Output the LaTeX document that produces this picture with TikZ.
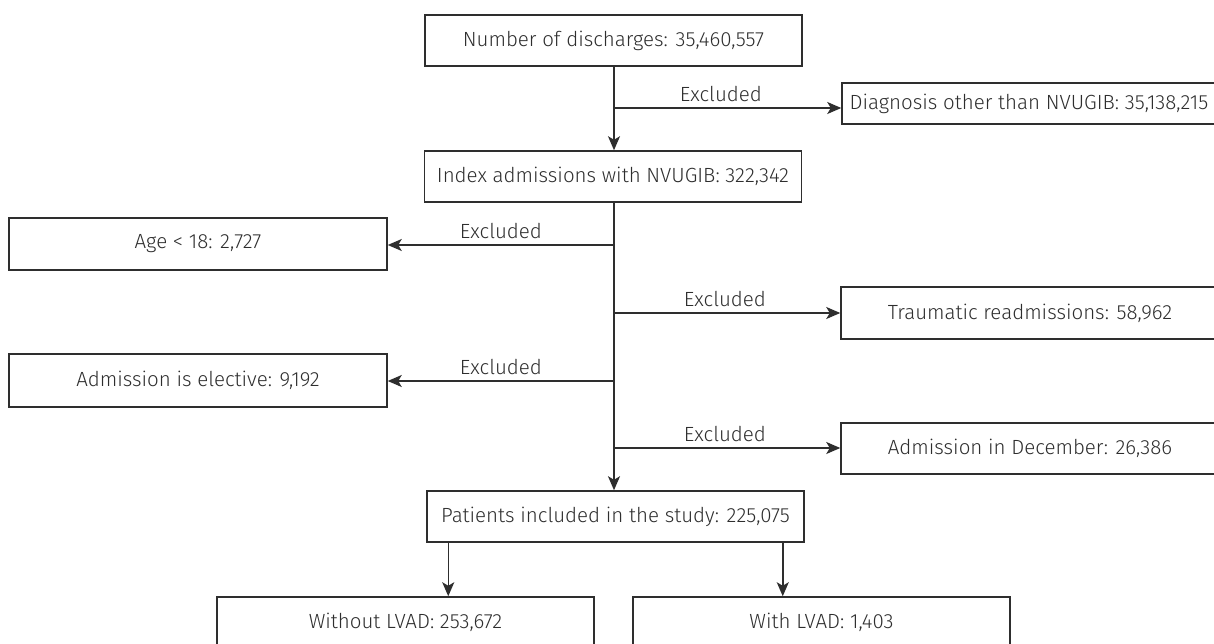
\documentclass[tikz,border=0pt]{standalone}
\usepackage{fontspec}
\setmainfont{Fira Sans}[UprightFont=* Light]
\usetikzlibrary{arrows.meta,calc}
\definecolor{ink}{HTML}{2E2E2E}
\tikzset{
  box/.style={draw=ink, line width=1.5pt, rectangle, minimum width=377pt, minimum height=51pt, inner sep=0pt, text=ink, font=\fontsize{20.5}{24}\selectfont},
  arr/.style={draw=ink, line width=1.5pt, -{Stealth[length=14pt,width=12pt,inset=3.5pt]}},
  lbl/.style={text=ink, font=\fontsize{20.5}{24}\selectfont, inner sep=0pt}
}
\begin{document}
\begin{tikzpicture}[x=1pt,y=-1pt]
\useasboundingbox (0,0) rectangle (1214,644);
\clip (0,0) rectangle (1214,644);
\node[box] (n1) at (613.5,40.5) {Number of discharges: 35,460,557};
\node[box, minimum width=374pt, minimum height=41pt] (diag) at (1029,103.5) {Diagnosis other than NVUGIB: 35,138,215};
\node[box] (idx) at (613,176.5) {Index admissions with NVUGIB: 322,342};
\node[box, minimum width=378pt, minimum height=52pt] (age) at (198,244) {Age < 18: 2,727};
\node[box, minimum width=378pt, minimum height=52pt] (trau) at (1030,313) {Traumatic readmissions: 58,962};
\node[box, minimum width=378pt, minimum height=53pt] (elec) at (198,380.5) {Admission is elective: 9,192};
\node[box, minimum width=378pt] (dec) at (1030,448.5) {Admission in December: 26,386};
\node[box] (pat) at (615.5,516.5) {Patients included in the study: 225,075};
\node[box] (wo) at (405.5,622.5) {Without LVAD: 253,672};
\node[box] (wi) at (821.5,622.5) {With LVAD: 1,403};
% main spine
\coordinate (s1) at (614,66);
\coordinate (b0) at (614,108);
\coordinate (b1) at (614,245);
\coordinate (b2) at (614,313);
\coordinate (b3) at (614,381);
\coordinate (b4) at (614,448);
\draw[arr] (s1) -- (s1 |- idx.north);
\draw[arr] (s1 |- idx.south) -- (s1 |- pat.north);
% exclusions
\draw[arr] (b0) -- node[lbl, above=6pt, pos=0.47] (l0) {Excluded} (b0 -| diag.west);
\draw[arr] (b1) -- node[lbl, above=6pt] (l1) {Excluded} (b1 -| age.east);
\draw[arr] (b2) -- node[lbl, above=6pt, pos=0.49] (l2) {Excluded} (b2 -| trau.west);
\draw[arr] (b3) -- node[lbl, above=6pt] (l3) {Excluded} (b3 -| elec.east);
\draw[arr] (b4) -- node[lbl, above=6pt, pos=0.49] (l4) {Excluded} (b4 -| dec.west);
% split
\coordinate (p1) at ([xshift=22pt]pat.south west);
\coordinate (p2) at ([xshift=-22pt]pat.south east);
\draw[arr] (p1) -- (p1 |- wo.north);
\draw[arr] (p2) -- (p2 |- wi.north);
\end{tikzpicture}
\end{document}
